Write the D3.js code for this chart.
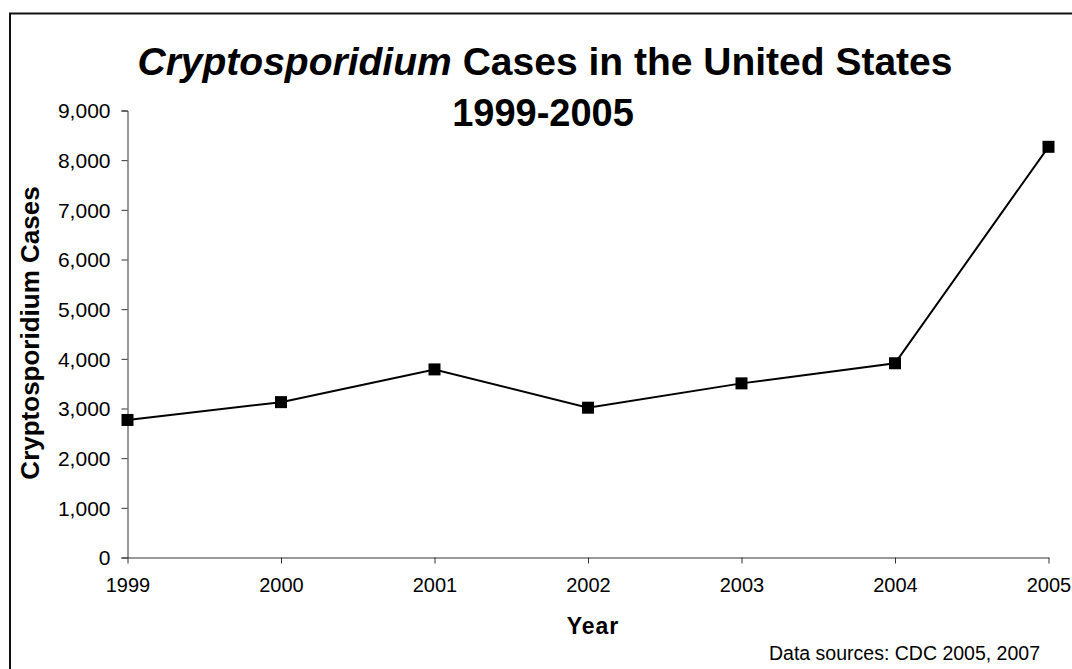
<!DOCTYPE html>
<html>
<head>
<meta charset="utf-8">
<script src="https://cdn.jsdelivr.net/npm/d3@7"></script>
<style>
  html, body { margin: 0; padding: 0; background: #fff; }
  svg text { font-family: Arial, "Liberation Sans", sans-serif; fill: #000; }
</style>
</head>
<body>
<svg id="chart" width="1072" height="669"></svg>
<script>
// Reported Cryptosporidium cases per year
const years = ["1999", "2000", "2001", "2002", "2003", "2004", "2005"];
const cases = [2769, 3128, 3787, 3016, 3506, 3911, 8269];
const yTicks = [0, 1000, 2000, 3000, 4000, 5000, 6000, 7000, 8000, 9000];

const svg = d3.select("#chart");

// Frame around the chart area (runs off the right and bottom edges)
svg.append("rect")
  .attr("x", 10).attr("y", 13.5)
  .attr("width", 1100).attr("height", 700)
  .attr("fill", "none").attr("stroke", "#111").attr("stroke-width", 2);

const x = d3.scalePoint().domain(years).range([127.5, 1048.5]);
const y = d3.scaleLinear().domain([0, 9000]).range([557.5, 110.5]);

// Y axis
const yAxis = svg.append("g")
  .attr("transform", "translate(127.5,0)")
  .call(d3.axisLeft(y).tickValues(yTicks).tickSize(6).tickPadding(11)
    .tickFormat(d3.format(",")));
yAxis.selectAll("text").attr("font-size", 21).attr("dy", "0.35em");

// X axis
const xAxis = svg.append("g")
  .attr("transform", "translate(0,557.5)")
  .call(d3.axisBottom(x).tickSize(6).tickPadding(21).tickSizeOuter(0));
xAxis.selectAll("text").attr("font-size", 20).attr("dy", "0.35em");

svg.selectAll(".domain, .tick line").attr("stroke", "#333").attr("stroke-width", 1);

// Series line with square markers
const line = d3.line()
  .x((d, i) => x(years[i]))
  .y(d => y(d));

svg.append("path")
  .datum(cases)
  .attr("d", line)
  .attr("fill", "none")
  .attr("stroke", "#000")
  .attr("stroke-width", 2);

const m = 12;
svg.selectAll("rect.marker")
  .data(cases)
  .join("rect")
  .attr("class", "marker")
  .attr("x", (d, i) => x(years[i]) - m / 2)
  .attr("y", d => y(d) - m / 2)
  .attr("width", m).attr("height", m)
  .attr("fill", "#000");

// Title
const title = svg.append("text")
  .attr("x", 545).attr("y", 75)
  .attr("text-anchor", "middle")
  .attr("font-size", 39).attr("font-weight", "bold");
title.append("tspan").attr("font-style", "italic").text("Cryptosporidium");
title.append("tspan").attr("dx", 11).text("Cases in the United States");

svg.append("text")
  .attr("x", 543).attr("y", 126)
  .attr("text-anchor", "middle")
  .attr("font-size", 38).attr("font-weight", "bold")
  .text("1999-2005");

// Axis titles
svg.append("text")
  .attr("transform", "translate(39,333) rotate(-90)")
  .attr("text-anchor", "middle")
  .attr("font-size", 26).attr("font-weight", "bold")
  .text("Cryptosporidium Cases");

svg.append("text")
  .attr("x", 593).attr("y", 634)
  .attr("text-anchor", "middle")
  .attr("font-size", 23).attr("font-weight", "bold")
  .attr("letter-spacing", 1)
  .text("Year");

// Source note
svg.append("text")
  .attr("x", 1040).attr("y", 660)
  .attr("text-anchor", "end")
  .attr("font-size", 19.5)
  .text("Data sources: CDC 2005, 2007");
</script>
</body>
</html>
